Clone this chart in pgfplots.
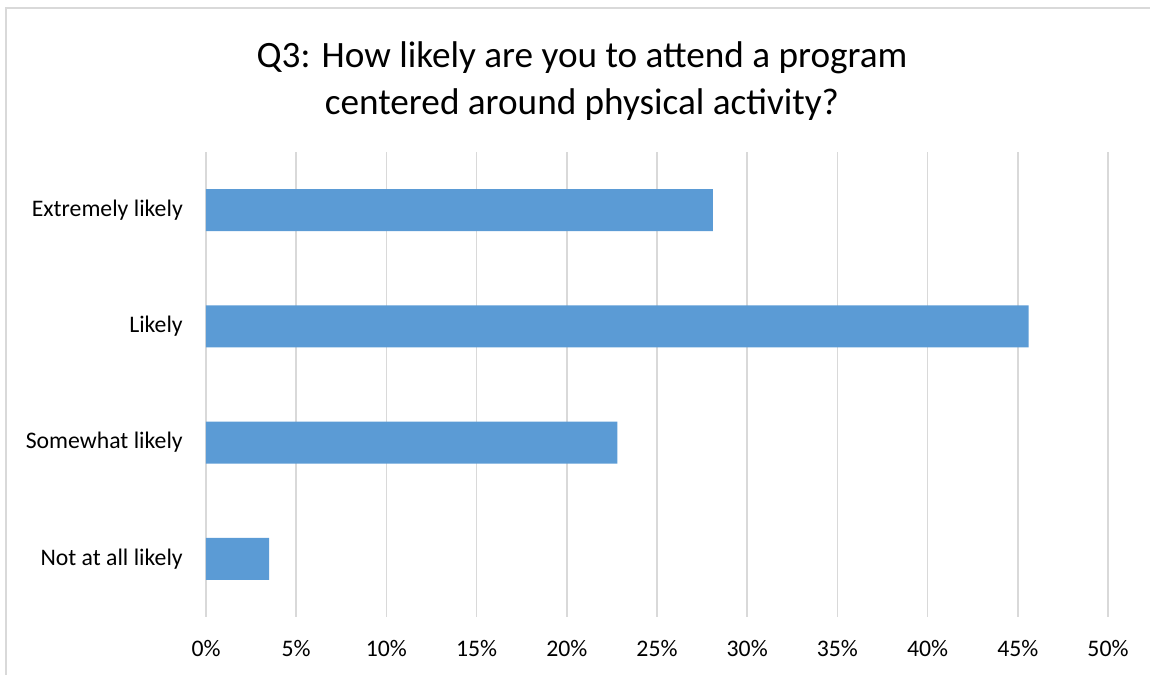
\documentclass[border=0pt]{standalone}
\usepackage{pgfplots}
\pgfplotsset{compat=1.18}
\usepackage{fontspec}
\setmainfont{Carlito}
\definecolor{barblue}{HTML}{5B9BD5}
\definecolor{gridgray}{HTML}{D9D9D9}

\begin{document}
\begin{tikzpicture}
  % page = 1150 x 675 px, 1 px = 0.75pt, origin at plot lower-left (px 206,617)
  \useasboundingbox (-154.5pt,-43.5pt) rectangle (708pt,462.75pt);
  \clip (-154.5pt,-43.5pt) rectangle (708pt,462.75pt);
  \draw[gridgray, line width=1.5pt] (-150pt,-80pt) -- (-150pt,456.75pt) -- (740pt,456.75pt);

  \begin{axis}[
      at={(0,0)}, anchor=south west,
      scale only axis,
      width=676.5pt, height=348.75pt,
      xbar,
      bar width=31.5pt,
      xmin=0, xmax=50,
      ymin=-0.5, ymax=3.5,
      y dir=reverse,
      xtick={0,5,...,50},
      ytick={0,1,2,3},
      yticklabels={Extremely likely, Likely, Somewhat likely, Not at all likely},
      xticklabel={\pgfmathprintnumber{\tick}\%},
      /pgf/number format/assume math mode=true,
      axis line style={draw=none},
      major tick length=0pt,
      tick style={draw=none},
      xmajorgrids,
      grid style={gridgray, line width=1.2pt},
      ticklabel style={font=\fontsize{17.8pt}{21pt}\selectfont, text=black},
      yticklabel style={anchor=east, inner sep=0pt, xshift=-17.25pt},
      xticklabel style={anchor=center, inner sep=0pt, yshift=-23.25pt},
      clip=false,
    ]
    \addplot[fill=barblue, draw=none] coordinates {
      (28.1,0) (45.6,1) (22.8,2) (3.5,3)
    };
  \end{axis}

  \node[align=center, font=\fontsize{27.9pt}{35pt}\selectfont] at (282pt,402pt)
    {Q3: How likely are you to attend a program\\centered around physical activity?};
\end{tikzpicture}
\end{document}
